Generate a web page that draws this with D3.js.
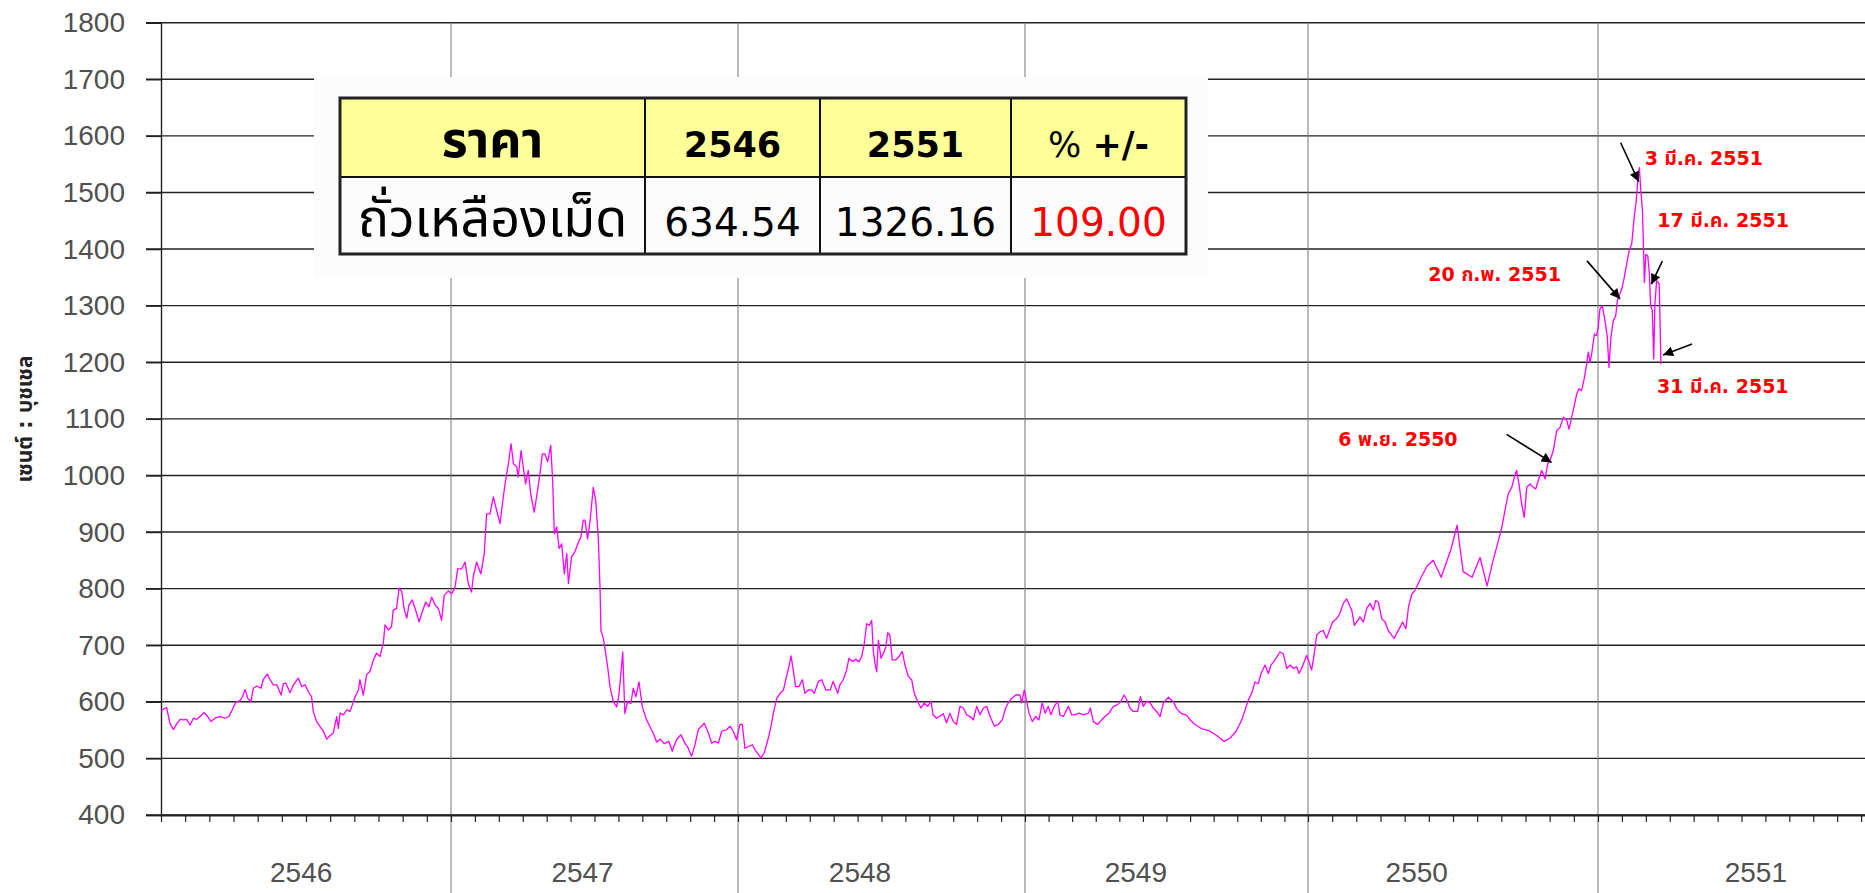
<!DOCTYPE html>
<html>
<head>
<meta charset="utf-8">
<script src="https://cdn.jsdelivr.net/npm/d3@7"></script>
<style>
  body { margin: 0; background: #fff; }
  svg { display: block; }
</style>
</head>
<body>
<script>
// months counted from Jan 2546, price in cents / bushel
const monthPos = [
  0.00,0.23,0.37,0.51,0.65,0.79,0.92,1.06,1.20,1.34,1.48,1.61,1.79,1.93,2.07,2.23,2.44,2.65,2.81,2.95,
  3.09,3.27,3.37,3.48,3.59,3.72,3.82,3.96,4.14,4.23,4.40,4.51,4.65,4.79,4.97,5.06,5.17,5.34,5.48,5.68,
  5.82,5.96,6.12,6.23,6.30,6.44,6.58,6.72,6.86,6.99,7.13,7.27,7.34,7.41,7.55,7.69,7.82,7.92,8.03,8.17,
  8.23,8.37,8.51,8.65,8.79,8.92,9.06,9.20,9.27,9.41,9.54,9.61,9.75,9.85,9.96,10.07,10.17,10.26,10.40,10.58,
  10.68,10.79,10.95,11.09,11.20,11.34,11.48,11.61,11.72,11.89,12.03,12.17,12.28,12.45,12.59,12.72,12.86,12.93,13.07,13.25,
  13.39,13.49,13.63,13.77,13.91,14.05,14.15,14.26,14.40,14.51,14.61,14.75,14.81,14.93,15.02,15.12,15.23,15.34,15.48,15.62,
  15.72,15.82,15.93,16.04,16.17,16.25,16.32,16.42,16.52,16.63,16.74,16.84,16.91,17.04,17.18,17.30,17.43,17.53,17.60,17.71,
  17.81,17.95,18.05,18.16,18.23,18.27,18.37,18.47,18.55,18.65,18.79,18.93,19.02,19.13,19.18,19.27,19.38,19.52,19.62,19.73,
  19.86,20.00,20.18,20.32,20.46,20.60,20.74,20.92,21.11,21.25,21.43,21.61,21.78,21.92,22.06,22.20,22.34,22.59,22.76,22.90,
  23.04,23.18,23.32,23.53,23.67,23.80,23.94,24.08,24.18,24.29,24.43,24.60,24.71,24.85,24.96,25.10,25.27,25.38,25.48,25.62,
  25.76,25.90,26.03,26.13,26.22,26.31,26.41,26.55,26.69,26.80,26.94,27.08,27.19,27.36,27.50,27.67,27.85,27.98,28.17,28.26,
  28.40,28.54,28.64,28.78,28.92,29.06,29.17,29.28,29.38,29.49,29.59,29.66,29.73,29.80,29.87,29.98,30.08,30.18,30.26,30.35,
  30.45,30.59,30.73,30.87,30.98,31.12,31.26,31.37,31.54,31.65,31.79,31.93,32.07,32.16,32.30,32.44,32.58,32.72,32.86,33.00,
  33.14,33.28,33.42,33.56,33.70,33.84,33.98,34.12,34.26,34.40,34.54,34.72,34.88,35.05,35.19,35.30,35.44,35.61,35.79,35.86,
  35.97,36.07,36.17,36.31,36.45,36.59,36.73,36.85,36.99,37.10,37.24,37.39,37.48,37.63,37.84,37.98,38.12,38.29,38.47,38.69,
  38.77,38.90,39.08,39.25,39.39,39.56,39.75,39.93,40.07,40.20,40.31,40.45,40.59,40.78,40.89,41.02,41.16,41.30,41.44,41.58,
  41.73,41.87,42.08,42.29,42.43,42.64,42.86,43.00,43.21,43.51,43.85,44.14,44.44,44.70,44.95,45.19,45.47,45.61,45.75,45.89,
  46.01,46.18,46.32,46.43,46.60,46.81,46.95,47.10,47.24,47.38,47.52,47.62,47.76,47.94,48.04,48.15,48.26,48.36,48.50,48.63,
  48.77,48.91,49.02,49.19,49.32,49.46,49.60,49.74,49.81,49.92,50.06,50.15,50.29,50.43,50.57,50.70,50.80,50.91,51.05,51.19,
  51.32,51.46,51.57,51.67,51.81,51.91,52.05,52.16,52.30,52.43,52.68,52.93,53.18,53.51,53.92,54.17,54.42,54.79,55.12,55.41,
  55.66,56.01,56.15,56.29,56.43,56.54,56.63,56.73,56.84,56.95,57.05,57.19,57.32,57.42,57.53,57.67,57.81,57.92,58.01,58.15,
  58.29,58.43,58.57,58.71,58.80,58.91,59.02,59.12,59.21,59.32,59.43,59.53,59.60,59.67,59.74,59.85,59.94,60.01,60.08,60.18,
  60.29,60.39,60.46,60.54,60.64,60.74,60.81,60.92,61.01,61.10,61.20,61.30,61.41,61.52,61.59,61.66,61.73,61.79,61.86,61.91,
  61.94,62.00,62.08,62.15,62.20,62.27,62.33,62.38,62.45,62.52,62.56,62.59,62.63
];
const price = [
  585,590,562,551,561,569,568,569,559,571,569,574,581,574,565,571,574,571,574,586,
  599,602,609,622,606,600,624,628,624,639,649,639,630,630,612,632,633,616,630,642,
  627,630,616,609,583,565,556,548,534,540,545,574,553,580,577,586,583,595,609,621,
  639,612,648,654,674,686,680,704,736,727,733,762,765,801,795,762,748,771,780,756,
  741,756,776,768,785,771,765,744,788,796,791,803,835,835,847,809,794,821,847,826,
  862,932,932,962,938,915,950,985,1021,1056,1021,1015,997,1044,1015,985,1009,965,935,974,
  1003,1038,1038,1024,1053,991,897,909,871,879,826,862,809,856,865,879,891,921,921,888,
  918,979,956,888,803,726,712,685,662,626,600,591,612,662,688,579,600,597,624,609,
  635,591,568,556,544,529,534,526,530,513,533,542,527,518,504,524,551,562,545,527,
  530,527,548,551,557,548,533,560,560,518,521,524,515,507,501,510,536,557,580,606,
  615,621,645,662,681,656,627,627,639,615,621,621,615,636,639,621,621,636,615,630,
  639,656,677,671,675,671,680,703,738,735,744,689,668,653,709,677,686,697,722,718,
  674,674,680,689,665,645,639,615,598,589,598,592,601,577,571,575,579,563,580,565,
  560,592,589,577,574,568,592,577,589,592,574,557,560,568,589,598,606,612,612,598,
  621,601,580,565,574,568,598,580,592,577,592,601,577,574,592,577,577,580,577,580,
  589,565,560,568,574,580,592,595,601,612,604,589,583,583,609,592,601,598,589,583,
  574,598,608,600,588,579,576,568,560,552,548,540,530,536,548,568,603,615,635,632,
  650,665,650,665,674,688,685,659,665,659,662,650,662,682,671,656,685,718,724,726,
  712,729,741,747,756,774,782,768,762,735,744,750,741,765,774,762,779,776,747,741,
  726,718,712,721,732,741,729,768,791,797,820,840,850,820,870,912,830,820,855,805,
  850,906,938,968,979,997,1009,985,950,926,979,985,979,976,991,1009,994,1021,1026,1044,
  1079,1085,1103,1097,1082,1103,1124,1144,1153,1150,1171,1197,1218,1200,1215,1250,1247,1262,1294,1300,
  1274,1244,1191,1244,1274,1282,1309,1321,1332,1350,1374,1397,1409,1459,1482,1518,1544,1503,1468,1391,
  1341,1391,1388,1356,1300,1291,1206,1303,1344,1341,1338,1279,1197
];

const yTicks = d3.range(400, 1801, 100);
const yearLabels = ["2546", "2547", "2548", "2549", "2550", "2551"];
const yearLabelPos = [5.8, 17.5, 29.1, 40.7, 52.5, 66.6];

const tableHead = ["ราคา", "2546", "2551", "% +/-"];
const tableRow = ["ถั่วเหลืองเม็ด", "634.54", "1326.16", "109.00"];

const noteText = ["3 มี.ค. 2551", "17 มี.ค. 2551", "20 ก.พ. 2551", "31 มี.ค. 2551", "6 พ.ย. 2550"];
const noteMonth = [61.70, 62.23, 60.92, 62.72, 58.08];
const noteValue = [1519, 1338, 1312, 1213, 1023];

(()=>{
  const width = 1865;
  const height = 893;
  const axisX = 161;
  const axisY = 815;
  const topY = 22.7;
  const numFont = "'Liberation Sans', Arial, sans-serif";
  const thaiFont = "'DejaVu Sans', Tahoma, 'Noto Sans Thai', sans-serif";

  const x = d3.scaleLinear()
    .domain([0, 12, 24, 36, 48, 60, 72])
    .range([axisX, 451, 738, 1025, 1308, 1598, 1885]);

  const y = d3.scaleLinear()
    .domain([400, 1800])
    .range([axisY, topY]);

  const svg = d3.create("svg")
    .attr("width", width)
    .attr("height", height)
    .attr("viewBox", [0, 0, width, height]);

  svg.append("rect").attr("width", width).attr("height", height).attr("fill", "#fff");

  const defs = svg.append("defs");
  defs.append("marker")
    .attr("id", "arr")
    .attr("viewBox", "0 0 10 10")
    .attr("refX", 10).attr("refY", 5)
    .attr("markerWidth", 12).attr("markerHeight", 10)
    .attr("markerUnits", "userSpaceOnUse")
    .attr("orient", "auto")
    .append("path")
    .attr("d", "M0,0L10,5L0,10z")
    .attr("fill", "#000");

  // horizontal grid
  svg.append("g")
    .selectAll("line")
    .data(yTicks)
    .join("line")
    .attr("x1", axisX - 15)
    .attr("x2", width)
    .attr("y1", d => y(d))
    .attr("y2", d => y(d))
    .attr("stroke", "#222")
    .attr("stroke-width", 1.4);

  // year separators
  svg.append("g")
    .selectAll("line")
    .data([12, 24, 36, 48, 60])
    .join("line")
    .attr("x1", d => x(d))
    .attr("x2", d => x(d))
    .attr("y1", topY)
    .attr("y2", height)
    .attr("stroke", "#777")
    .attr("stroke-width", 1);

  // y axis
  const gy = svg.append("g")
    .attr("transform", `translate(${axisX},0)`)
    .call(d3.axisLeft(y).tickValues(yTicks).tickSize(15).tickPadding(21).tickFormat(d3.format("d")));
  gy.select(".domain").attr("stroke", "#222").attr("stroke-width", 1.4);
  gy.selectAll(".tick line").attr("stroke", "#222").attr("stroke-width", 1.4);
  gy.selectAll("text")
    .attr("font-family", numFont)
    .attr("font-size", 28)
    .attr("fill", "#505050");

  // x axis (monthly ticks)
  const gx = svg.append("g")
    .attr("transform", `translate(0,${axisY})`)
    .call(d3.axisBottom(x).tickValues(d3.range(0, 73)).tickSize(7).tickSizeOuter(0).tickFormat(""));
  gx.select(".domain").attr("stroke", "#222").attr("stroke-width", 2);
  gx.selectAll(".tick line").attr("stroke", "#222").attr("stroke-width", 1.2);

  svg.append("g")
    .selectAll("text")
    .data(yearLabels)
    .join("text")
    .attr("x", (d, i) => x(yearLabelPos[i]))
    .attr("y", 882)
    .attr("text-anchor", "middle")
    .attr("font-family", numFont)
    .attr("font-size", 28)
    .attr("fill", "#505050")
    .text(d => d);

  svg.append("text")
    .attr("transform", "translate(32,419) rotate(-90)")
    .attr("text-anchor", "middle")
    .attr("font-family", thaiFont)
    .attr("font-weight", "bold")
    .attr("font-size", 21)
    .attr("fill", "#222")
    .text("เซนต์ : บุชเชล");

  // price line
  const line = d3.line()
    .x((d, i) => x(monthPos[i]))
    .y(d => y(d));

  svg.append("path")
    .datum(price)
    .attr("d", line)
    .attr("fill", "none")
    .attr("stroke", "#ff00ff")
    .attr("stroke-width", 1.3)
    .attr("stroke-linejoin", "round");

  // table block
  svg.append("rect")
    .attr("x", 314).attr("y", 77)
    .attr("width", 894).attr("height", 201)
    .attr("fill", "#fcfcfc");

  const colX = [340, 645, 820, 1011, 1186];
  const rowY = [98, 177, 254];

  svg.append("rect")
    .attr("x", colX[0]).attr("y", rowY[0])
    .attr("width", colX[4] - colX[0]).attr("height", rowY[1] - rowY[0])
    .attr("fill", "#ffff99");

  const grid = svg.append("g").attr("stroke", "#111").attr("stroke-width", 2);
  colX.slice(1, 4).forEach(cx => {
    grid.append("line").attr("x1", cx).attr("x2", cx).attr("y1", rowY[0]).attr("y2", rowY[2]);
  });
  grid.append("line").attr("x1", colX[0]).attr("x2", colX[4]).attr("y1", rowY[1]).attr("y2", rowY[1]);
  svg.append("rect")
    .attr("x", colX[0]).attr("y", rowY[0])
    .attr("width", colX[4] - colX[0]).attr("height", rowY[2] - rowY[0])
    .attr("fill", "none")
    .attr("stroke", "#222")
    .attr("stroke-width", 3);

  const cellMid = i => (colX[i] + colX[i + 1]) / 2;

  tableHead.forEach((t, i) => {
    const tx = svg.append("text")
      .attr("x", cellMid(i))
      .attr("y", 157)
      .attr("text-anchor", "middle")
      .attr("font-family", thaiFont)
      .attr("font-size", i === 0 ? 50 : 35)
      .attr("fill", "#000");
    if (t.startsWith("%")) {
      tx.append("tspan").attr("font-weight", "normal").text("% ");
      tx.append("tspan").attr("font-weight", "bold").text(t.slice(2));
    } else {
      tx.attr("font-weight", "bold").text(t);
    }
  });

  tableRow.forEach((t, i) => {
    svg.append("text")
      .attr("x", cellMid(i))
      .attr("y", 236)
      .attr("text-anchor", "middle")
      .attr("font-family", thaiFont)
      .attr("font-size", i === 0 ? 52 : 39)
      .attr("fill", i === 3 ? "#ff0000" : "#000")
      .text(t);
  });

  // annotations
  const tail = [[-18, -39], [11, -23], [-33, -38], [29, -11], [-45, -28]];
  const lab = [[6, -17, "start"], [6, -57, "start"], [-59, -18, "end"], [-6, 38, "start"], [-94, -16, "end"]];

  const notes = svg.append("g");
  noteText.forEach((t, i) => {
    const px = x(noteMonth[i]);
    const py = y(noteValue[i]);
    notes.append("line")
      .attr("x1", px + tail[i][0]).attr("y1", py + tail[i][1])
      .attr("x2", px).attr("y2", py)
      .attr("stroke", "#000")
      .attr("stroke-width", 1.6)
      .attr("marker-end", "url(#arr)");
    notes.append("text")
      .attr("x", px + lab[i][0])
      .attr("y", py + lab[i][1])
      .attr("text-anchor", lab[i][2])
      .attr("font-family", thaiFont)
      .attr("font-weight", "bold")
      .attr("font-size", 19)
      .attr("fill", "#ff0000")
      .text(t);
  });

  d3.select("body").append(() => svg.node());
})();
</script>
</body>
</html>
